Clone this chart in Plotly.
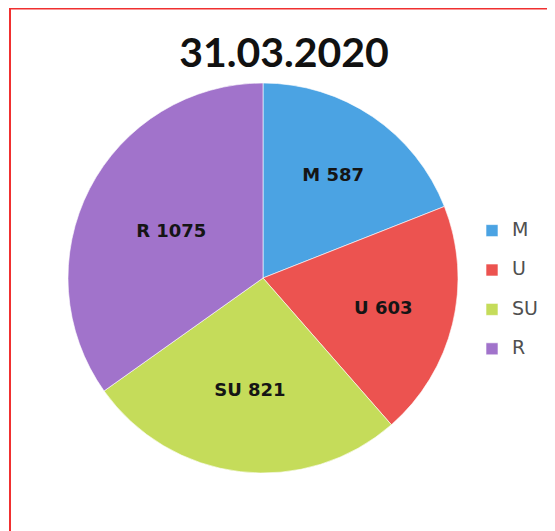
import plotly.graph_objects as go

labels = ["M", "U", "SU", "R"]
values = [587, 603, 821, 1075]
colors = ["#4BA3E3", "#EC5350", "#C5DC5A", "#A173CB"]
title_text = "31.03.2020"

W, H = 555, 531
cx, cy, r = 255, 270, 195

# legend labels: larger glyphs plus a spacer line so entries are spaced like the original
legend_labels = [f"<span style='font-size:19px'>{l}</span><br>&nbsp;" for l in labels]
slice_text = [f"{l} {v}" for l, v in zip(labels, values)]

fig = go.Figure(go.Pie(
    labels=legend_labels,
    values=values,
    text=slice_text,
    sort=False,
    direction="clockwise",
    rotation=0,
    marker=dict(colors=colors, line=dict(color="rgba(255,255,255,0.6)", width=1)),
    textinfo="text",
    textposition="inside",
    insidetextorientation="horizontal",
    textfont=dict(family="DejaVu Sans, sans-serif", size=18, color="#151515", weight="bold"),
    domain=dict(x=[(cx - r) / W, (cx + r) / W], y=[(H - cy - r) / H, (H - cy + r) / H]),
    hoverinfo="text",
))

fig.update_layout(
    width=W, height=H,
    margin=dict(l=0, r=0, t=0, b=0),
    paper_bgcolor="white",
    plot_bgcolor="white",
    title=dict(text="<b>" + title_text + "</b>", x=276 / W, xanchor="center",
               y=1 - 45 / H, yanchor="middle",
               font=dict(family="Lato, Open Sans, sans-serif", size=41, color="#111111")),
    legend=dict(x=464 / W, y=1 - 207 / H, xanchor="left", yanchor="top",
                valign="top",
                font=dict(family="DejaVu Sans, sans-serif", size=14, color="#505050"),
                itemwidth=30, tracegroupgap=0),
    showlegend=True,
    shapes=[dict(type="rect", xref="paper", yref="paper",
                 x0=2 / W, y0=-0.05, x1=1.05, y1=1 - 0.5 / H,
                 line=dict(color="#f03030", width=2), fillcolor="rgba(0,0,0,0)")],
)

fig.write_html("out.html")
